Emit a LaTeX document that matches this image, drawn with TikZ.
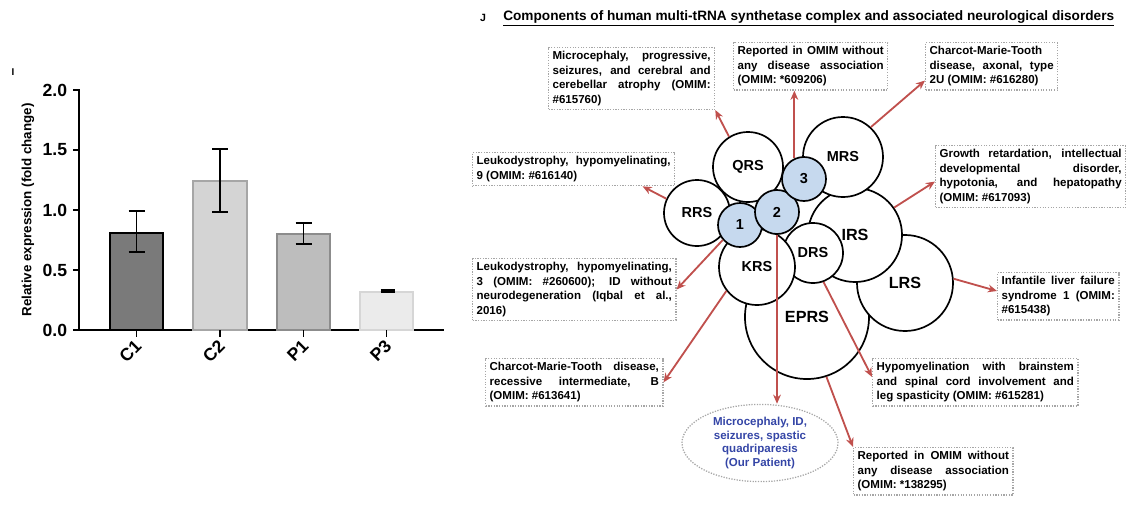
\documentclass[tikz,border=0pt]{standalone}
\usepackage{fontspec}
\setmainfont{Liberation Sans}
\usetikzlibrary{arrows.meta,shapes.geometric}

\definecolor{arrowred}{HTML}{C0504D}
\definecolor{cellblue}{HTML}{C6D9EE}
\definecolor{patientblue}{HTML}{3445A6}

\begin{document}
\begin{tikzpicture}[x=0.025cm,y=-0.025cm,
	disorder/.style={draw=gray!70,densely dotted,line width=0.9pt,inner sep=0.1cm,anchor=north west,
		align=justify,font=\fontsize{8.2}{10.2}\selectfont\bfseries},
	enzyme/.style={circle,draw,line width=1.2pt,fill=white,inner sep=0pt,minimum size=#1,
		font=\fontsize{10.3}{12}\selectfont\bfseries},
	bigenzyme/.style={enzyme=#1,font=\fontsize{11.5}{13}\selectfont\bfseries},
	core/.style={enzyme=1.1cm,fill=cellblue},
	link/.style={arrowred,line width=1.3pt,-{Stealth[length=6.5pt,width=5.5pt]}},
	ticklabel/.style={font=\fontsize{12.5}{14}\selectfont\bfseries},
	errbar/.style={line width=1.3pt}
]
	\useasboundingbox (0,0) rectangle (1127,508);

	% panel I: bar chart
	\node[font=\fontsize{7}{8}\selectfont\bfseries] at (13,72) {I};
	\draw[line width=1.3pt] (79,89) -- (79,330) -- (444,330);
	\foreach \v/\y in {0.0/330,0.5/270,1.0/210,1.5/150,2.0/90} {
		\draw[line width=1.3pt] (73,\y) -- (79,\y);
		\node[ticklabel,anchor=east] at (72,\y) {\v};
	}
	\node[rotate=90,font=\fontsize{9.5}{11}\selectfont\bfseries] at (28,210) {Relative expression (fold change)};

	\draw[line width=1.8pt,draw=black,fill=black!52] (110,330) rectangle (163,233);
	\draw[line width=1.5pt,draw=black!35,fill=black!17] (193,330) rectangle (247,181);
	\draw[line width=1.5pt,draw=black!45,fill=black!26] (277,330) rectangle (330,234);
	\draw[line width=1.5pt,draw=black!16,fill=black!8] (360,330) rectangle (413,292);

	\draw[errbar] (136.5,252) -- (136.5,211) (128.5,252) -- (144.5,252) (128.5,211) -- (144.5,211);
	\draw[errbar] (220,212) -- (220,149) (212,212) -- (228,212) (212,149) -- (228,149);
	\draw[errbar] (303.5,244) -- (303.5,223) (295.5,244) -- (311.5,244) (295.5,223) -- (311.5,223);
	\draw[errbar] (380.5,292) -- (394.5,292) (380.5,290) -- (394.5,290);

	\foreach \x/\lab in {136.5/C1,220/C2,303.5/P1,386.5/P3} {
		\draw[line width=1.3pt] (\x,330) -- (\x,337);
		\node[ticklabel,rotate=45,anchor=east,inner sep=1pt] at (\x+3,342) {\lab};
	}

	% panel J: title
	\node[font=\fontsize{7.5}{9}\selectfont\bfseries] at (483,18) {J};
	\node[anchor=west,inner sep=0pt,font=\fontsize{9.7}{11}\selectfont\bfseries] (title) at (503,18)
		{\underline{Components of human multi-tRNA synthetase complex and associated neurological disorders}};

	% synthetase complex
	\node[bigenzyme=3.1cm] (eprs) at (807,317) {EPRS};
	\node[bigenzyme=2.4cm] (lrs) at (905,283) {LRS};
	\node[bigenzyme=2.35cm] (irs) at (855,235) {IRS};
	\node[enzyme=2cm] (mrs) at (843,157) {MRS};
	\node[enzyme=1.5cm] (drs) at (813,253) {DRS};
	\node[enzyme=1.9cm] (krs) at (757,267) {KRS};
	\node[enzyme=1.65cm] (rrs) at (697,213) {RRS};
	\node[enzyme=1.75cm] (qrs) at (748,167) {QRS};
	\node[core] (c1) at (740,225) {1};
	\node[core] (c2) at (777,212) {2};
	\node[core] (c3) at (804,179) {3};

	% disorders
	\node[disorder,text width=3.95cm] (microcephaly) at (548,47)
		{Microcephaly, progressive,\linebreak seizures, and cerebral and\linebreak cerebellar atrophy (OMIM:\linebreak \#615760)};
	\node[disorder,text width=3.65cm] (omim609) at (733,42)
		{Reported in OMIM without\linebreak any disease association\linebreak (OMIM: *609206)};
	\node[disorder,text width=3.1cm] (cmtaxonal) at (925,42)
		{Charcot-Marie-Tooth\linebreak disease, axonal, type\linebreak 2U (OMIM: \#616280)};
	\node[disorder,text width=4.55cm] (growth) at (935,145)
		{Growth retardation, intellectual\linebreak developmental disorder,\linebreak hypotonia, and hepatopathy\linebreak (OMIM: \#617093)};
	\node[disorder,text width=4.85cm] (leukoix) at (472,152)
		{Leukodystrophy, hypomyelinating,\linebreak 9 (OMIM: \#616140)};
	\node[disorder,text width=4.88cm] (leukoiii) at (472,258)
		{Leukodystrophy, hypomyelinating,\linebreak 3 (OMIM: \#260600); ID without\linebreak neurodegeneration (Iqbal et al.,\linebreak 2016)};
	\node[disorder,text width=2.83cm] (liver) at (997,272)
		{Infantile liver failure\linebreak syndrome 1 (OMIM:\linebreak \#615438)};
	\node[disorder,text width=4.23cm] (cmtrecessive) at (485,358)
		{Charcot-Marie-Tooth disease,\linebreak recessive intermediate, B\linebreak (OMIM: \#613641)};
	\node[disorder,text width=4.93cm] (brainstem) at (872,358)
		{Hypomyelination with brainstem\linebreak and spinal cord involvement and\linebreak leg spasticity (OMIM: \#615281)};
	\node[disorder,text width=3.78cm] (omim138) at (853,447)
		{Reported in OMIM without\linebreak any disease association\linebreak (OMIM: *138295)};
	\node[ellipse,draw=gray!70,densely dotted,line width=0.9pt,minimum width=3.9cm,minimum height=1.93cm,
		inner sep=0pt,align=center,text=patientblue,font=\fontsize{8.2}{9.9}\selectfont\bfseries] (patient) at (760,443)
		{Microcephaly, ID,\\ seizures, spastic\\ quadriparesis\\ (Our Patient)};

	% arrows
	\draw[link] (qrs.122) -- (microcephaly.south east);
	\draw[link] (c3.115) -- (c3.115 |- omim609.south);
	\draw[link] (mrs.47) -- (cmtaxonal.192);
	\draw[link] (irs.35) -- (growth.183);
	\draw[link] (lrs.5) -- (liver.175);
	\draw[link] (drs.-70) -- (brainstem.177);
	\draw[link] (eprs.-72) -- (omim138.north west);
	\draw[link] (c2.south) -- (c2.south |- patient.north);
	\draw[link] (krs.218) -- (cmtrecessive.east);
	\draw[link] (c1.221) -- (leukoiii.east);
	\draw[link] (rrs.155) -- (leukoix.-14);
\end{tikzpicture}
\end{document}
